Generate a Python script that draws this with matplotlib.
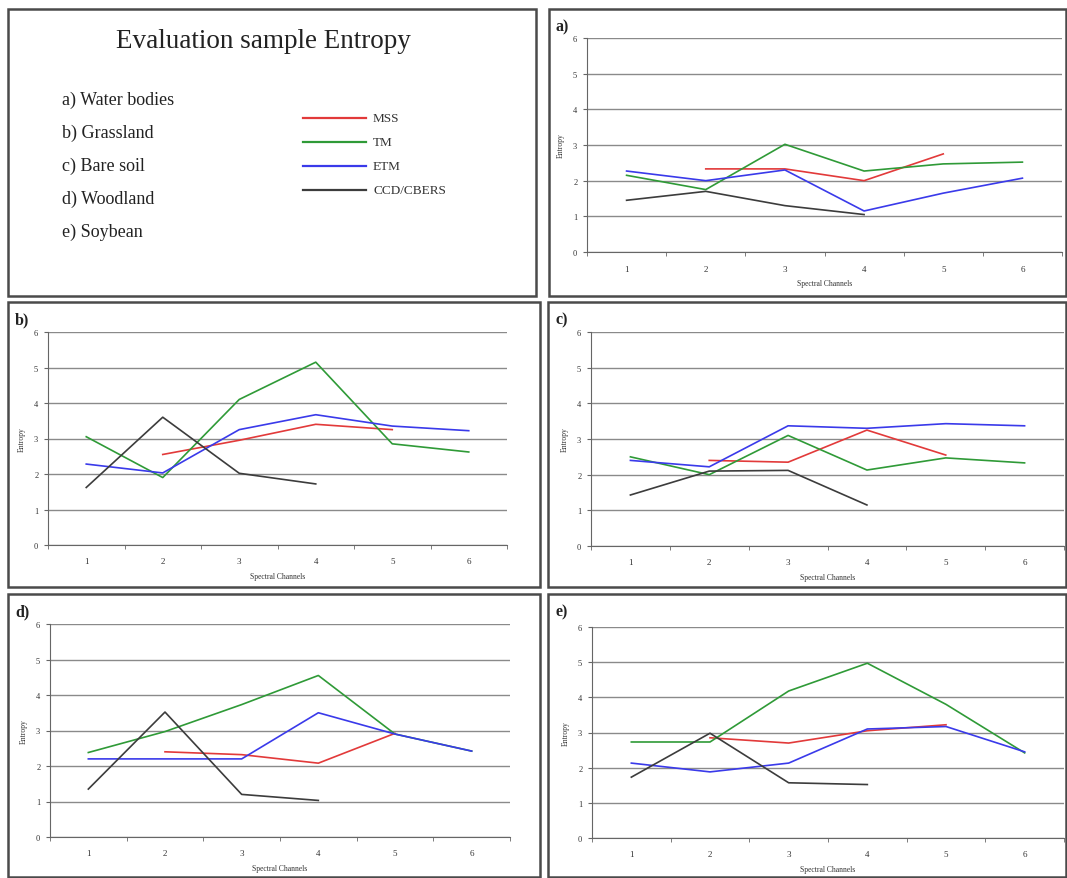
import numpy as np
import matplotlib.pyplot as plt
from matplotlib.patches import Rectangle
from matplotlib.lines import Line2D

plt.rcParams['font.family'] = ['Liberation Serif', 'DejaVu Serif']

W, H = 1067, 879

channels = [1, 2, 3, 4, 5, 6]
sensors = ["MSS", "TM", "ETM", "CCD/CBERS"]
colors = ["#e23a3a", "#2f9a37", "#3a3aea", "#3c3c3c"]
classes = ["a) Water bodies", "b) Grassland", "c) Bare soil", "d) Woodland", "e) Soybean"]

# MSS has channels 2-5, CCD/CBERS channels 1-4, TM and ETM channels 1-6
mss_x = [2, 3, 4, 5]
ccd_x = [1, 2, 3, 4]

# a) Water bodies
a_mss = [2.33, 2.33, 2.0, 2.75]
a_tm = [2.15, 1.75, 3.02, 2.27, 2.47, 2.52]
a_etm = [2.27, 2.0, 2.3, 1.15, 1.65, 2.07]
a_ccd = [1.45, 1.7, 1.3, 1.05]

# b) Grassland
b_mss = [2.55, 2.95, 3.4, 3.25]
b_tm = [3.05, 1.9, 4.1, 5.15, 2.85, 2.62]
b_etm = [2.28, 2.03, 3.25, 3.67, 3.35, 3.22]
b_ccd = [1.62, 3.6, 2.02, 1.72]

# c) Bare soil
c_mss = [2.4, 2.35, 3.25, 2.55]
c_tm = [2.5, 2.0, 3.1, 2.13, 2.47, 2.33]
c_etm = [2.4, 2.22, 3.37, 3.3, 3.43, 3.37]
c_ccd = [1.43, 2.1, 2.12, 1.15]

# d) Woodland
d_mss = [2.4, 2.32, 2.08, 2.92]
d_tm = [2.38, 2.97, 3.73, 4.55, 2.9, 2.42]
d_etm = [2.2, 2.2, 2.2, 3.5, 2.9, 2.42]
d_ccd = [1.35, 3.52, 1.2, 1.03]

# e) Soybean
e_mss = [2.85, 2.7, 3.05, 3.22]
e_tm = [2.73, 2.73, 4.18, 4.97, 3.8, 2.42]
e_etm = [2.13, 1.88, 2.13, 3.1, 3.17, 2.45]
e_ccd = [1.73, 2.98, 1.57, 1.52]

panels = [
    ("a)", a_mss, a_tm, a_etm, a_ccd),
    ("b)", b_mss, b_tm, b_etm, b_ccd),
    ("c)", c_mss, c_tm, c_etm, c_ccd),
    ("d)", d_mss, d_tm, d_etm, d_ccd),
    ("e)", e_mss, e_tm, e_etm, e_ccd),
]

# boxes (left, top, right, bottom) in pixels, and plot areas
boxes = [(8, 10, 536, 297), (549, 10, 1066, 297),
         (8, 303, 540, 588), (548, 303, 1066, 588),
         (8, 595, 540, 878), (548, 595, 1066, 878)]
areas = [(587, 39, 1062, 253),
         (48, 333, 507, 546), (591, 333, 1064, 547),
         (50, 625, 510, 838), (592, 628, 1064, 839)]

fig = plt.figure(figsize=(W / 100, H / 100), dpi=100)


def px_axes(l, t, r, b, **kw):
    return fig.add_axes([l / W, 1 - b / H, (r - l) / W, (b - t) / H], **kw)


for (l, t, r, b) in boxes:
    fig.patches.append(Rectangle((l / W, 1 - b / H), (r - l) / W, (b - t) / H,
                                 transform=fig.transFigure, fill=False,
                                 edgecolor="#4a4a4a", lw=1.8))

# text / legend panel
fig.text(263 / W, 1 - 42 / H, "Evaluation sample Entropy", fontsize=19.5,
         ha="center", va="center", color="#222222")
for i, name in enumerate(classes):
    fig.text(62 / W, 1 - (100 + i * 33) / H, name, fontsize=13,
             ha="left", va="center", color="#222222")
for i, (s, c) in enumerate(zip(sensors, colors)):
    y = 1 - (119 + i * 24) / H
    fig.add_artist(Line2D([303 / W, 366 / W], [y, y], color=c, lw=1.6,
                          transform=fig.transFigure))
    fig.text(373 / W, y, s, fontsize=9.5, ha="left", va="center", color="#333333")

for (lab, mss, tm, etm, ccd), (l, t, r, b), box in zip(panels, areas, boxes[1:]):
    ax = px_axes(l, t, r, b)
    ax.plot(mss_x, mss, color=colors[0], lw=1.2)
    ax.plot(channels, tm, color=colors[1], lw=1.2)
    ax.plot(channels, etm, color=colors[2], lw=1.2)
    ax.plot(ccd_x, ccd, color=colors[3], lw=1.2)

    ax.set_xlim(0.5, 6.5)
    ax.set_ylim(0, 6)
    ax.set_yticks(range(7))
    ax.set_xticks(channels)
    ax.set_xticks(np.arange(0.5, 7, 1), minor=True)
    ax.grid(axis="y", color="#8a8a8a", lw=1.0)
    ax.set_axisbelow(True)
    for side in ["top", "right"]:
        ax.spines[side].set_visible(False)
    for side in ["left", "bottom"]:
        ax.spines[side].set_color("#666666")
    ax.tick_params(axis="y", labelsize=6, length=3, color="#666666",
                   labelcolor="#333333", pad=4)
    ax.tick_params(axis="x", which="major", labelsize=6.5, length=0,
                   labelcolor="#333333", pad=9)
    ax.tick_params(axis="x", which="minor", length=3, color="#666666")
    ax.set_xlabel("Spectral Channels", fontsize=5.5, color="#333333", labelpad=5)
    ax.set_ylabel("Entropy", fontsize=5.5, color="#333333", labelpad=6)

    fig.text((box[0] + 7) / W, 1 - (box[1] + 17) / H, lab, fontsize=11.5,
             fontweight="bold", ha="left", va="center", color="#222222")

fig.savefig("out.png", dpi=100)
